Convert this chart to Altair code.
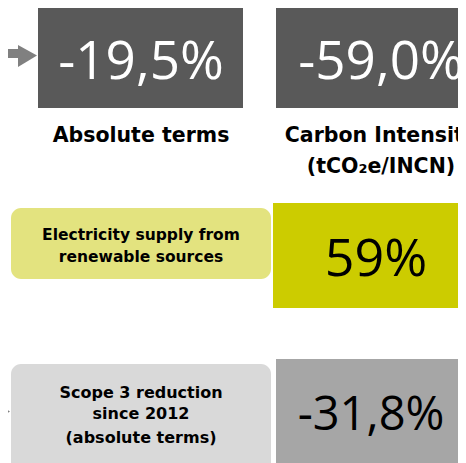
import altair as alt
import pandas as pd

# ---- content ----
kpi_values = ["-19,5%", "-59,0%", "59%", "-31,8%"]
kpi_text_colors = ["#FFFFFF", "#FFFFFF", "#000000", "#000000"]
kpi_box_colors = ["#595959", "#595959", "#CCCC00", "#A6A6A6"]
caption_lines = ["Absolute terms", "Carbon Intensity", "(tCO₂e/INCN)",
                 "Electricity supply from", "renewable sources",
                 "Scope 3 reduction", "since 2012", "(absolute terms)"]
label_box_colors = ["#E3E37F", "#D9D9D9"]
arrow_color = "#808080"

# ---- layout (reference pixel coordinates) ----
kpi_x0 = [38, 276, 273, 276]
kpi_x1 = [243, 486, 480, 480]
kpi_y0 = [3, 3, 203, 359]
kpi_y1 = [108, 108, 308, 480]
kpi_tx = [141, 381, 376, 371]
kpi_ty = [79, 79, 276, 430]
kpi_size = [53, 53, 52, 47]

lab_x0 = [11, 11]
lab_x1 = [271, 271]
lab_y0 = [208, 364]
lab_y1 = [279, 480]

cap_x = [141, 381, 381, 141, 141, 141, 141, 141]
cap_y = [142, 142, 173, 240, 262, 398, 419, 443]
cap_size = [20.5, 20.5, 20.5, 15.5, 15.5, 16, 16, 16]

W, H = 450, 455
X = alt.Scale(domain=[8, 8 + W], range=[0, W])
Y = alt.Scale(domain=[8, 8 + H], range=[0, H])

kpi_df = pd.DataFrame({"x0": kpi_x0, "x1": kpi_x1, "y0": kpi_y0, "y1": kpi_y1,
                       "fill": kpi_box_colors, "tx": kpi_tx, "ty": kpi_ty,
                       "txt": kpi_values, "tcol": kpi_text_colors, "size": kpi_size})
lab_df = pd.DataFrame({"x0": lab_x0, "x1": lab_x1, "y0": lab_y0, "y1": lab_y1,
                       "fill": label_box_colors})
cap_df = pd.DataFrame({"x": cap_x, "y": cap_y, "txt": caption_lines, "size": cap_size})

shaft_df = pd.DataFrame({"x0": [-20], "x1": [19], "y0": [49], "y1": [58]})
head_df = pd.DataFrame({
    "arrow": ["a", "a", "b", "b"],
    "x": [18, 37, -9, 10],
    "y": [45, 55.5, 400.5, 411.5],
    "y2": [67, 55.5, 422.5, 411.5],
})

kpi_boxes = alt.Chart(kpi_df).mark_rect().encode(
    x=alt.X("x0:Q", scale=X, axis=None), x2="x1:Q",
    y=alt.Y("y0:Q", scale=Y, axis=None), y2="y1:Q",
    color=alt.Color("fill:N", scale=None),
)
lab_boxes = alt.Chart(lab_df).mark_rect(cornerRadius=10).encode(
    x=alt.X("x0:Q", scale=X, axis=None), x2="x1:Q",
    y=alt.Y("y0:Q", scale=Y, axis=None), y2="y1:Q",
    color=alt.Color("fill:N", scale=None),
)
kpi_text = alt.Chart(kpi_df).mark_text(font="Open Sans", align="center",
                                       baseline="alphabetic").encode(
    x=alt.X("tx:Q", scale=X, axis=None),
    y=alt.Y("ty:Q", scale=Y, axis=None),
    text="txt:N",
    color=alt.Color("tcol:N", scale=None),
    size=alt.Size("size:Q", scale=None),
)
cap_text = alt.Chart(cap_df).mark_text(font="DejaVu Sans", fontWeight="bold",
                                       align="center", baseline="alphabetic",
                                       color="#000000").encode(
    x=alt.X("x:Q", scale=X, axis=None),
    y=alt.Y("y:Q", scale=Y, axis=None),
    text="txt:N",
    size=alt.Size("size:Q", scale=None),
)
shaft = alt.Chart(shaft_df).mark_rect(color=arrow_color).encode(
    x=alt.X("x0:Q", scale=X, axis=None), x2="x1:Q",
    y=alt.Y("y0:Q", scale=Y, axis=None), y2="y1:Q",
)
heads = alt.Chart(head_df).mark_area(color=arrow_color, opacity=1).encode(
    x=alt.X("x:Q", scale=X, axis=None),
    y=alt.Y("y:Q", scale=Y, axis=None), y2="y2:Q",
    detail="arrow:N",
)

chart = alt.layer(kpi_boxes, lab_boxes, shaft, heads, kpi_text, cap_text).properties(
    width=W, height=H, autosize=alt.AutoSizeParams(type="none"), padding=0,
).configure_view(stroke=None, clip=False)

chart.save("out.html", embed_options={"renderer": "svg", "actions": False})
